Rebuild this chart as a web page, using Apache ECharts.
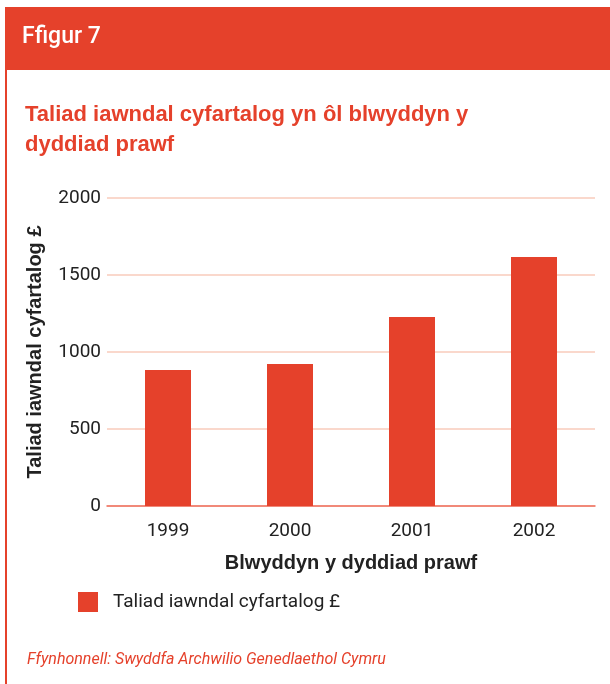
<!DOCTYPE html>
<html>
<head>
<meta charset="utf-8">
<script src="https://cdn.jsdelivr.net/npm/echarts@6/dist/echarts.min.js"></script>
<style>
  html, body { margin: 0; padding: 0; background: #fff; }
  #chart { width: 610px; height: 684px; }
</style>
</head>
<body>
<div id="chart"></div>
<script>
const years = ['1999', '2000', '2001', '2002']
const payments = [883, 922, 1227, 1617]
const seriesName = 'Taliad iawndal cyfartalog £'

const red = '#e5412b'
const bold = '"Liberation Sans", Arial, sans-serif'
const thin = 'Roboto, "Noto Sans", sans-serif'

const chart = echarts.init(document.getElementById('chart'))
chart.setOption({
  animation: false,
  graphic: [
    // header bar + left border
    { type: 'rect', shape: { x: 5, y: 7, width: 605, height: 63 }, style: { fill: red } },
    { type: 'rect', shape: { x: 5, y: 70, width: 2, height: 614 }, style: { fill: red } },
    {
      type: 'text', left: 22, top: 26,
      style: { text: 'Ffigur 7', fill: '#fff', font: '500 23px ' + thin }
    },
    {
      type: 'text', left: 25, top: 100,
      style: { text: 'Taliad iawndal cyfartalog yn ôl blwyddyn y\ndyddiad prawf', fill: red, font: 'bold 22px ' + bold, lineHeight: 30 }
    },
    {
      type: 'text', left: 27, top: 652,
      style: { text: 'Ffynhonnell: Swyddfa Archwilio Genedlaethol Cymru', fill: red, font: 'italic 16px ' + thin }
    }
  ],
  legend: {
    left: 78,
    top: 592,
    padding: 0,
    icon: 'rect',
    itemWidth: 20,
    itemHeight: 20,
    textStyle: { fontSize: 19, color: '#222', fontFamily: thin, padding: [5, 0, 0, 10] },
    data: [seriesName]
  },
  grid: { left: 107, right: 15, top: 198, bottom: 178 },
  xAxis: {
    type: 'category',
    data: years,
    name: 'Blwyddyn y dyddiad prawf',
    nameLocation: 'middle',
    nameGap: 47,
    nameTextStyle: { fontSize: 20, fontWeight: 'bold', color: '#222', fontFamily: bold },
    axisLine: { lineStyle: { color: '#ee6f5e', width: 1.5 } },
    axisTick: { show: false },
    axisLabel: { fontSize: 19, color: '#222', margin: 16, fontFamily: thin }
  },
  yAxis: {
    type: 'value',
    min: 0,
    max: 2000,
    interval: 500,
    name: 'Taliad iawndal cyfartalog £',
    nameLocation: 'middle',
    nameGap: 62,
    nameRotate: 90,
    nameTextStyle: { fontSize: 20, fontWeight: 'bold', color: '#222', fontFamily: bold },
    axisLine: { show: false },
    axisTick: { show: false },
    axisLabel: { fontSize: 19, color: '#222', margin: 6, fontFamily: thin, formatter: v => String(v) },
    splitLine: { lineStyle: { color: '#f8cbbb', width: 1.5 } }
  },
  series: [{
    name: seriesName,
    type: 'bar',
    barWidth: 46,
    itemStyle: { color: red },
    data: payments
  }]
})
</script>
</body>
</html>
